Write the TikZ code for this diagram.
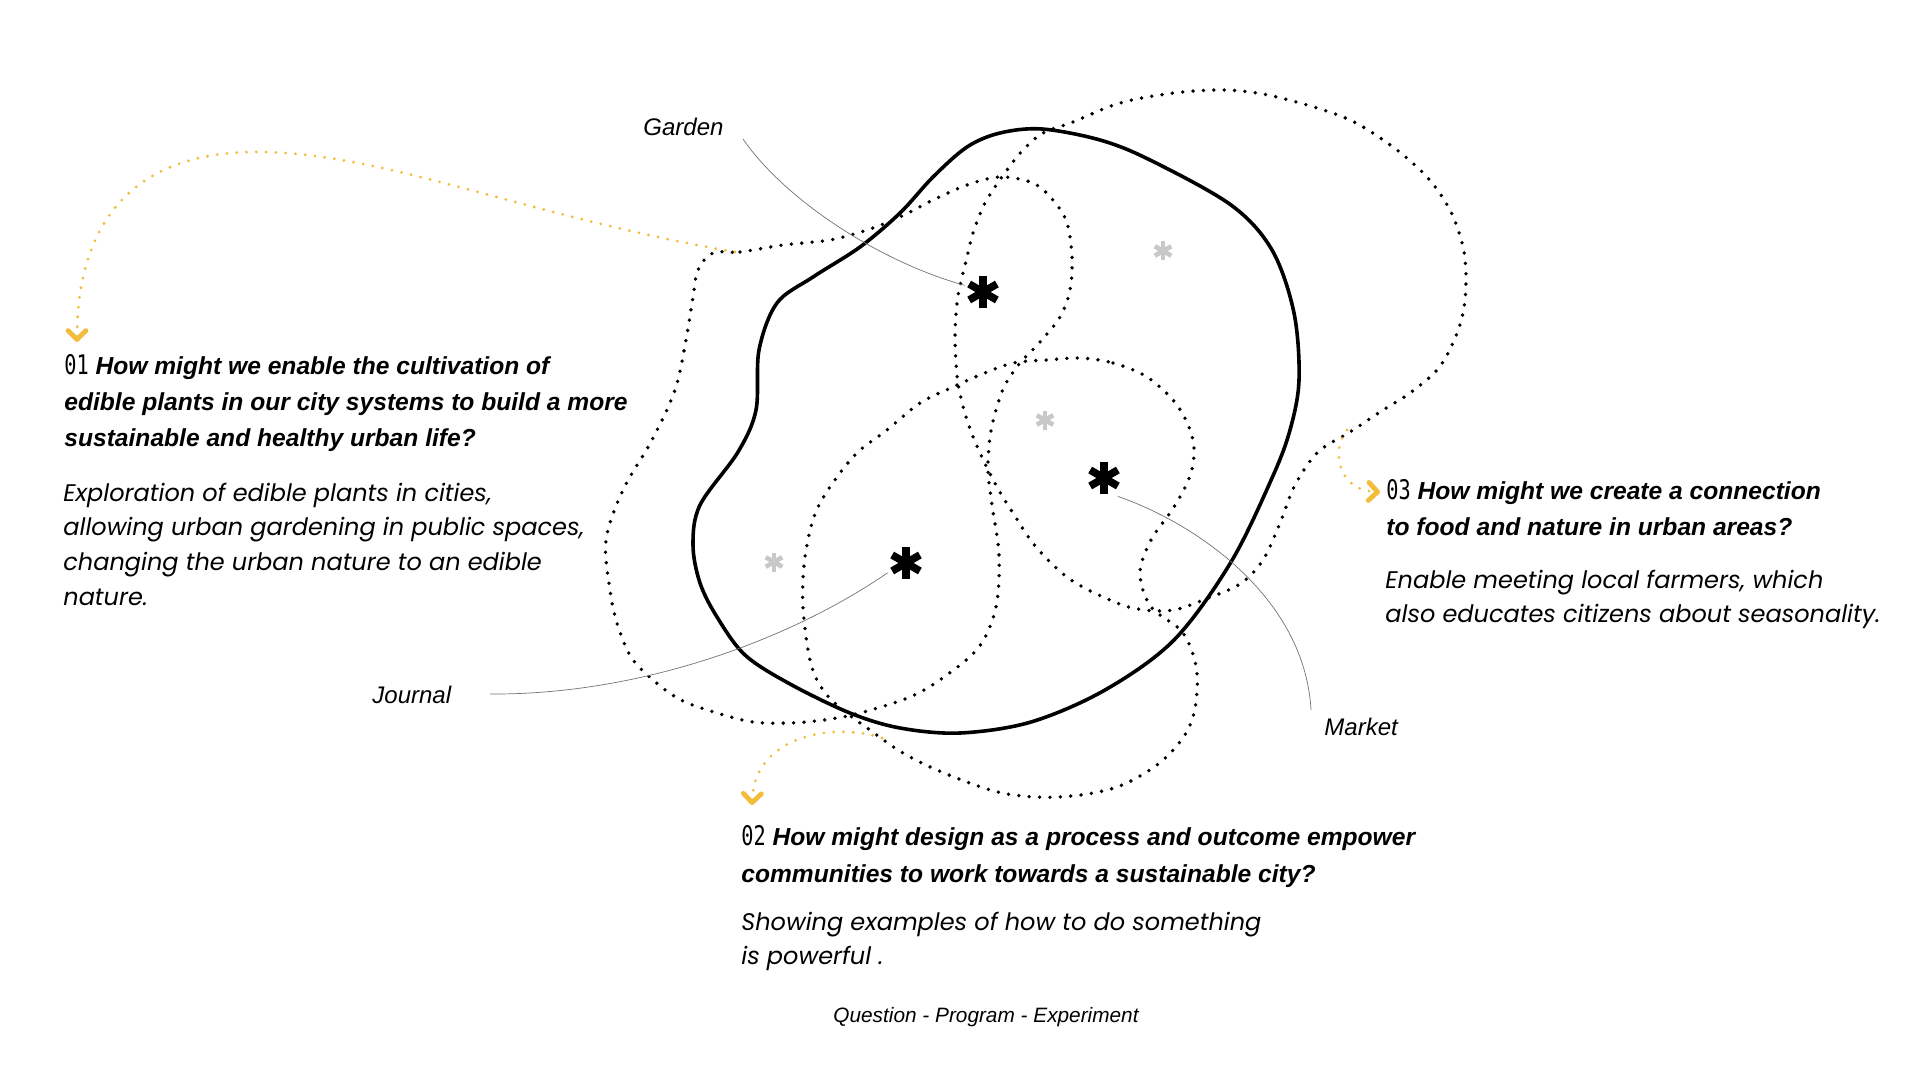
\documentclass[tikz,border=0pt]{standalone}
\usepackage{fontspec}
\setmainfont{Liberation Sans}
\newfontfamily\qfont{Liberation Sans}
\newfontfamily\dfont{Poppins}
\newfontfamily\mfont[FakeStretch=0.75]{DejaVu Sans Mono}
\usetikzlibrary{arrows.meta}
\definecolor{ayellow}{RGB}{243,188,58}
\definecolor{agray}{RGB}{200,200,200}
\begin{document}
\begin{tikzpicture}[x=0.5pt,y=-0.5pt,
  dotline/.style={line width=1.9pt, line cap=round, dash pattern=on 0pt off 5.2pt},
  ydot/.style={ayellow, line width=1.55pt, line cap=round, dash pattern=on 0pt off 4.9pt,
    -{Straight Barb[length=4.5pt,width=9pt,line width=2.4pt,round]}},
  blob/.style={line width=1.8pt, line join=round},
  leader/.style={black!55, line width=0.35pt},
  qline/.style={anchor=base west, inner sep=0pt, font=\qfont\fontsize{12.3}{15}\selectfont\bfseries\itshape},
  dline/.style={anchor=base west, inner sep=0pt, font=\dfont\fontsize{12}{15}\selectfont\itshape},
  lbl/.style={anchor=base west, inner sep=0pt, font=\qfont\fontsize{12}{15}\selectfont\itshape},
  bigast/.style={inner sep=0pt, minimum size=18pt, path picture={
    \foreach \a in {90,30,-30}{\draw[line width=3.8pt]
      ([shift={(\a:16)}]path picture bounding box.center) --
      ([shift={(\a+180:16)}]path picture bounding box.center);}}},
  smallast/.style={inner sep=0pt, minimum size=12pt, path picture={
    \foreach \a in {90,30,-30}{\draw[agray, line width=2.3pt]
      ([shift={(\a:9.5)}]path picture bounding box.center) --
      ([shift={(\a+180:9.5)}]path picture bounding box.center);}}}
]
\fill[white] (0,0) rectangle (1920,1080);
\useasboundingbox (0,0) rectangle (1920,1080);

% solid blob
\draw[blob] plot[smooth cycle, tension=0.55] coordinates {
 (1042,129) (1100,140) (1150,160) (1231,205) (1272,250) (1294,313) (1299,380)
 (1290,430) (1272,478) (1231,562) (1174,640) (1105,690) (1031,722) (960,733)
 (900,728) (850,713) (790,684) (745,655) (717,617) (700,583) (693,545) (700,505)
 (738,452) (756,410) (759,350) (777,303) (813,277) (860,247) (900,213) (933,177)
 (967,147) (1000,133)};

% dotted loop L
\draw[dotline] plot[smooth cycle, tension=0.55] coordinates {
 (713,253) (740,252) (783,245) (830,240) (867,230) (900,217) (933,200) (967,185)
 (1000,177) (1033,183) (1053,200) (1067,223) (1072,257) (1070,290) (1060,317)
 (1040,342) (1020,363) (1005,385) (996,410) (990,437) (988,470) (992,505)
 (999,555) (996,607) (979,647) (944,677) (910,697) (860,713) (824,720) (789,723)
 (753,722) (717,713) (681,700) (653,680) (631,657) (617,623) (610,590) (606,540)
 (623,490) (652,440) (675,390) (686,340) (693,297) (698,270)};

% dotted loop T
\draw[dotline] plot[smooth cycle, tension=0.55] coordinates {
 (1043,133) (1073,122) (1120,103) (1174,93) (1220,90) (1257,93) (1300,103)
 (1350,120) (1393,147) (1427,177) (1450,210) (1463,247) (1466,280) (1463,313)
 (1453,343) (1437,370) (1410,393) (1383,410) (1350,432) (1318,452) (1295,485)
 (1280,523) (1263,560) (1240,584) (1203,600) (1174,610) (1145,610) (1117,603)
 (1071,580) (1036,547) (1013,513) (997,487) (980,453) (967,420) (958,383)
 (955,340) (957,303) (962,277) (967,257) (973,233) (983,207) (993,190)
 (1007,170) (1023,150)};

% dotted loop M
\draw[dotline] plot[smooth cycle, tension=0.55] coordinates {
 (1080,358) (1113,363) (1147,377) (1177,405) (1193,440) (1191,473) (1174,507)
 (1151,540) (1140,573) (1151,607) (1183,633) (1197,673) (1191,723) (1163,760)
 (1117,787) (1059,797) (1002,793) (944,773) (903,753) (870,730) (839,707)
 (821,687) (810,660) (803,607) (805,557) (818,507) (853,457) (887,430)
 (920,403) (953,387) (980,375) (1013,363) (1047,360)};

% asterisks
\node[bigast] (gast) at (983,292) {};
\node[bigast] (mast) at (1104,478) {};
\node[bigast] (jast) at (906,563) {};
\node[smallast] (ga1) at (1163,251) {};
\node[smallast] (ga2) at (1045,420) {};
\node[smallast] (ga3) at (774,562) {};

% labels
\node[lbl] (garden) at (643,136) {Garden};
\node[lbl] (journal) at (372,703) {Journal};
\node[lbl] (market) at (1324,735) {Market};

\coordinate (gs) at (743,139);
\coordinate (js) at (490,694);
\coordinate (me) at (1311,710);
\draw[leader] (gs) .. controls (785,200) and (880,262) .. (gast.160);
\draw[leader] (js) .. controls (640,695) and (790,640) .. (jast.208);
\draw[leader] (mast.-53) .. controls (1200,525) and (1305,600) .. (me);

% yellow arrows
\coordinate (y1s) at (735,252);
\coordinate (y1m) at (250,152);
\coordinate (y1e) at (77,342);
\draw[ydot] (y1s) .. controls (520,215) and (380,150) .. (y1m)
  .. controls (110,155) and (77,250) .. (y1e);
\coordinate (y2s) at (882,738);
\coordinate (y2e) at (752,805);
\draw[ydot] (y2s) .. controls (835,722) and (754,735) .. (y2e);
\coordinate (y3s) at (1347,430);
\coordinate (y3e) at (1380,492);
\draw[ydot] (y3s) .. controls (1332,445) and (1335,490) .. (y3e);

% text block 01
\node[qline] (q1a) at (64,374) {{\mfont\fontsize{13.5}{15}\selectfont\mdseries\upshape 01} How might we enable the cultivation of};
\node[qline] (q1b) at (64,410) {edible plants in our city systems to build a more};
\node[qline] (q1c) at (64,446) {sustainable and healthy urban life?};
\node[dline] (d1a) at (63,501) {Exploration of edible plants in cities,};
\node[dline] (d1b) at (63,535) {allowing urban gardening in public spaces,};
\node[dline] (d1c) at (63,570) {changing the urban nature to an edible};
\node[dline] (d1d) at (63,605) {nature.};

% text block 03
\node[qline] (q3a) at (1386,499) {{\mfont\fontsize{13.5}{15}\selectfont\mdseries\upshape 03} How might we create a connection};
\node[qline] (q3b) at (1386,535) {to food and nature in urban areas?};
\node[dline] (d3a) at (1385,588) {Enable meeting local farmers, which};
\node[dline] (d3b) at (1385,622) {also educates citizens about seasonality.};

% text block 02
\node[qline] (q2a) at (741,845) {{\mfont\fontsize{13.5}{15}\selectfont\mdseries\upshape 02} How might design as a process and outcome empower};
\node[qline] (q2b) at (741,882) {communities to work towards a sustainable city?};
\node[dline] (d2a) at (741,930) {Showing examples of how to do something};
\node[dline] (d2b) at (741,964) {is powerful .};

\node[lbl, anchor=base, font=\qfont\fontsize{10.4}{13}\selectfont\itshape] (foot) at (986,1022) {Question - Program - Experiment};
\end{tikzpicture}
\end{document}
